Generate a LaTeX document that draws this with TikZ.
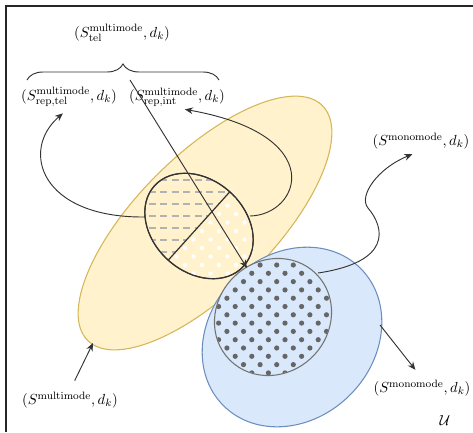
\documentclass[tikz,border=0pt]{standalone}
\usetikzlibrary{arrows.meta,decorations.pathreplacing}
\definecolor{yfill}{HTML}{FFF2CC}
\definecolor{yline}{HTML}{D6B656}
\definecolor{bfill}{HTML}{DAE8FC}
\definecolor{bline}{HTML}{6C8EBF}
\begin{document}
\begin{tikzpicture}[x=0.75pt,y=-0.75pt,font={\fontsize{10.95}{13}\selectfont},
  lbl/.style={inner sep=1pt},
  arr/.style={draw=black!80, line width=0.7pt, -{Stealth[length=6pt,width=5pt]}},
  setA/.style={fill=yfill, draw=yline, line width=0.8pt},
  setB/.style={fill=bfill, draw=bline, line width=0.8pt},
]
  \useasboundingbox (0,0) rectangle (473,432);
  \draw[line width=1pt, black!85] (6,432) -- (6,6) -- (473,6);
  % the two sets
  \path[setA, shift={(205,223)}, rotate=45] (0,0) ellipse [x radius=166, y radius=68];
  \path[setB, shift={(292,337)}, rotate=45] (0,0) ellipse [x radius=97, y radius=82];
  % inner subsets
  \path[setA, draw=black!80, shift={(199,226)}, rotate=-42] (0,0) ellipse [x radius=60, y radius=46];
  \begin{scope}
    \clip[shift={(199,226)}, rotate=-42] (0,0) ellipse [x radius=60, y radius=46];
    \clip[shift={(199,226)}, rotate=-42] (-70,-60) rectangle (0,60);
    \foreach \k in {0,...,8}
      \draw[black!30, line width=1.1pt, dash pattern=on 5.25pt off 3.4pt] (137,168+12*\k) -- (260,168+12*\k);
  \end{scope}
  \begin{scope}
    \clip[shift={(199,226)}, rotate=-42] (0,0) ellipse [x radius=60, y radius=46];
    \clip[shift={(199,226)}, rotate=-42] (0,-60) rectangle (70,60);
    \foreach \j in {0,...,16}
      \foreach \i in {0,...,8}
        \fill[white] ({134+17*\i+8.5*mod(\j,2)}, {180+8.5*\j}) circle (2.2);
  \end{scope}
  \draw[black!80, line width=0.9pt, shift={(199,226)}, rotate=-42] (0,0) ellipse [x radius=60, y radius=46];
  \draw[black!80, line width=0.9pt, shift={(199,226)}, rotate=-42] (0,-46) -- (0,46);
  \path[setB, draw=black!55, shift={(273,317)}, rotate=45] (0,0) ellipse [x radius=61, y radius=56];
  \begin{scope}
    \clip[shift={(273,317)}, rotate=45] (0,0) ellipse [x radius=60.5, y radius=55.5];
    \foreach \j in {0,...,16}
      \foreach \i in {0,...,9}
        \fill[black!60] ({210.3+16.6*\i+8.3*mod(\j,2)}, {248.4+8.3*\j}) circle (2.6);
  \end{scope}
  % labels
  \node[lbl] (tel) at (122,33) {$(S^{\mathrm{multimode}}_{\mathrm{tel}}, d_k)$};
  \node[lbl] (reptel) at (69,97) {$(S^{\mathrm{multimode}}_{\mathrm{rep,tel}}, d_k)$};
  \node[lbl] (repint) at (177,97) {$(S^{\mathrm{multimode}}_{\mathrm{rep,int}}, d_k)$};
  \node[lbl] (mono) at (421,141) {$(S^{\mathrm{monomode}}, d_k)$};
  \node[lbl] (multi) at (70,400) {$(S^{\mathrm{multimode}}, d_k)$};
  \node[lbl] (mono2) at (422,388) {$(S^{\mathrm{monomode}}, d_k)$};
  \node[lbl] (univ) at (445,420) {$\mathcal{U}$};
  \draw[black!80, line width=0.7pt, decorate, decoration={brace, amplitude=12pt}] (27,80) -- (219,80);
  % connection points
  \coordinate (smallW) at (145,217);
  \coordinate (smallE) at (250,216);
  \coordinate (touch) at (247,268);
  \coordinate (telfoot) at (130,80);
  \coordinate (innerNE) at (318,273);
  \coordinate (yellowSW) at (93,343);
  \coordinate (blueE) at (380,325);
  \draw[arr, shorten >=6pt] (smallW) .. controls (40,218) and (20,150) .. (reptel.south);
  \draw[arr, shorten >=6pt] (smallE) .. controls (300,215) and (330,135) .. (repint.south);
  \draw[arr] (telfoot) -- (touch);
  \draw[arr, shorten >=7pt] (innerNE) .. controls (392,262) and (385,228) .. (368,208)
    .. controls (358,196) and (378,168) .. (mono.south);
  \draw[arr, shorten <=8pt] (multi.north) -- (yellowSW);
  \draw[arr, shorten >=8pt] (blueE) -- (mono2.north);
\end{tikzpicture}
\end{document}
